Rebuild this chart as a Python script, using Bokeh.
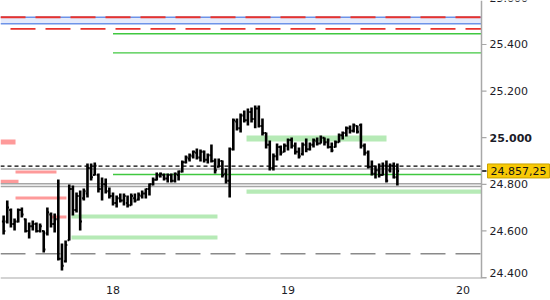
import numpy as np
from bokeh.plotting import figure
from bokeh.models import FixedTicker, Span, Label, ColumnDataSource
from bokeh.core.properties import value
from bokeh.embed import file_html
from bokeh.resources import INLINE

# ---------------- data ----------------
first_bar_day = 17.375          # 30-minute bars
bar_step_day = 1.0 / 48.0

bar_high = [24666, 24730, 24696, 24653, 24696, 24700, 24653, 24636, 24645, 24636,
            24632, 24602, 24700, 24679, 24675, 24821, 24546, 24559, 24799, 24795,
            24765, 24773, 24782, 24889, 24889, 24894, 24846, 24829, 24825, 24786,
            24765, 24752, 24761, 24761, 24752, 24761, 24761, 24765, 24773, 24782,
            24803, 24829, 24851, 24851, 24846, 24846, 24846, 24851, 24859, 24902,
            24924, 24932, 24945, 24954, 24949, 24945, 24932, 24971, 24911, 24911,
            24902, 24868, 24958, 25082, 25082, 25104, 25117, 25125, 25130, 25138,
            25138, 25082, 25022, 24988, 24932, 24975, 24967, 24975, 24997, 25001,
            24979, 24958, 24979, 24997, 24979, 24997, 25001, 25009, 25001, 24997,
            24979, 24988, 25018, 25027, 25048, 25052, 25061, 25052, 25061, 24975,
            24945, 24902, 24881, 24889, 24894, 24902, 24889, 24894, 24889]
bar_low = [24585, 24632, 24615, 24602, 24636, 24658, 24593, 24567, 24602, 24593,
           24593, 24507, 24580, 24615, 24593, 24473, 24430, 24464, 24559, 24666,
           24679, 24602, 24730, 24743, 24816, 24838, 24765, 24730, 24761, 24739,
           24709, 24700, 24722, 24709, 24700, 24709, 24722, 24730, 24739, 24739,
           24752, 24795, 24816, 24829, 24816, 24808, 24808, 24808, 24816, 24851,
           24889, 24898, 24911, 24906, 24898, 24894, 24889, 24894, 24846, 24872,
           24829, 24803, 24743, 24945, 25031, 25022, 25065, 25052, 25065, 25040,
           25044, 25009, 24954, 24859, 24859, 24902, 24924, 24937, 24945, 24954,
           24928, 24911, 24924, 24937, 24945, 24958, 24967, 24975, 24967, 24954,
           24937, 24958, 24979, 24992, 25005, 25018, 25022, 25018, 24954, 24924,
           24868, 24838, 24825, 24829, 24838, 24808, 24851, 24825, 24795]
bar_open = [24640, 24640, 24690, 24630, 24640, 24690, 24650, 24600, 24620, 24630,
            24600, 24600, 24590, 24670, 24630, 24650, 24480, 24470, 24560, 24780,
            24690, 24750, 24740, 24760, 24870, 24840, 24840, 24780, 24800, 24770,
            24750, 24720, 24740, 24730, 24720, 24710, 24740, 24735, 24750, 24760,
            24780, 24800, 24820, 24835, 24840, 24825, 24840, 24815, 24840, 24855,
            24895, 24910, 24920, 24935, 24915, 24940, 24905, 24925, 24900, 24875,
            24900, 24845, 24815, 24950, 25070, 25040, 25095, 25075, 25110, 25080,
            25125, 25050, 25020, 24970, 24870, 24920, 24960, 24940, 24965, 24990,
            24965, 24940, 24930, 24970, 24950, 24970, 24985, 24975, 25000, 24980,
            24960, 24960, 24980, 25010, 25020, 25040, 25030, 25050, 25055, 24965,
            24935, 24875, 24845, 24860, 24840, 24880, 24860, 24880, 24830]
bar_close = [24600, 24700, 24630, 24640, 24690, 24670, 24600, 24620, 24630, 24600,
             24620, 24520, 24680, 24630, 24650, 24480, 24450, 24540, 24780, 24690,
             24750, 24640, 24770, 24870, 24830, 24880, 24780, 24800, 24770, 24750,
             24720, 24740, 24730, 24750, 24710, 24750, 24730, 24755, 24760, 24780,
             24800, 24820, 24840, 24845, 24825, 24840, 24815, 24845, 24855, 24895,
             24915, 24925, 24940, 24915, 24940, 24905, 24925, 24900, 24860, 24900,
             24840, 24815, 24950, 25075, 25040, 25095, 25075, 25110, 25080, 25125,
             25050, 25020, 24970, 24870, 24920, 24960, 24935, 24965, 24990, 24965,
             24940, 24920, 24970, 24950, 24970, 24990, 24975, 25000, 24980, 24960,
             24945, 24980, 25010, 25020, 25040, 25030, 25055, 25025, 24965, 24935,
             24875, 24845, 24860, 24840, 24880, 24815, 24880, 24830, 24857.25]

x_ticks = [18, 19, 20]
x_labels = ["18", "19", "20"]
y_ticks = [24400, 24600, 24800, 25000, 25200, 25400, 25600]
y_labels = ["24.400", "24.600", "24.800", "25.000", "25.200", "25.400", "25.600"]
y_label_bold = [False, False, False, True, False, False, False]

last_price = 24857.25
last_price_text = "24.857,25"

blue_zone_bottom = 25489
blue_zone_top = 25517
red_dashed_levels = [25517, 25467]
green_levels = [25446, 25364, 24842]
green_levels_start = 18.0
gray_levels = [24866, 24802, 24791]
black_dashed_level = 24878
gray_dashed_level = 24502

green_zone_left = [18.763, 18.763, 17.763, 17.763]
green_zone_right = [19.563, None, 18.597, 18.597]     # None = up to the price axis
green_zone_bottom = [24984, 24759, 24653, 24563]
green_zone_top = [25009, 24778, 24670, 24580]

pink_zone_left = [None, 17.443, None, 17.443, 17.643]  # None = from the left edge
pink_zone_right = [17.443, 17.677, 17.46, 17.734, 17.734]
pink_zone_bottom = [24971, 24846, 24803, 24735, 24653]
pink_zone_top = [24992, 24859, 24820, 24748, 24666]

# ---------------- layout constants ----------------
FONT = "DejaVu Sans"
PX_PER_DAY = 175.0
X0 = 18 - 112.5 / PX_PER_DAY            # left edge of the canvas
AXIS_X = 18 + (481 - 112.5) / PX_PER_DAY  # price axis line
X1 = 18 + (550 - 112.5) / PX_PER_DAY     # right edge of the canvas
Y0, Y1 = 24395.7, 25588.8
AX_COLOR = "#a8a8a8"
TXT_COLOR = "#1c1c28"

p = figure(width=550, height=300, output_backend="svg", toolbar_location=None,
           x_range=(X0, X1), y_range=(Y0, Y1), y_axis_location=None,
           min_border_left=0, min_border_top=0, min_border_right=0, min_border_bottom=22)
p.outline_line_color = None
p.grid.visible = False
p.background_fill_color = "white"

# time axis (bottom)
xa = p.xaxis[0]
xa.ticker = FixedTicker(ticks=x_ticks)
xa.major_label_overrides = {t: l for t, l in zip(x_ticks, x_labels)}
xa.axis_line_color = None
xa.major_tick_line_color = None
xa.major_tick_out = 4
xa.major_tick_in = 0
xa.minor_tick_line_color = None
xa.major_label_standoff = 3
xa.major_label_text_font = FONT
xa.major_label_text_font_size = "11px"
xa.major_label_text_color = TXT_COLOR
# visible part of the time-axis line (stops just right of the price axis)
p.segment(x0=[X0], x1=[AXIS_X + 5 / PX_PER_DAY], y0=[Y0], y1=[Y0],
          line_color=AX_COLOR, line_width=2)

# zones
p.quad(left=[X0], right=[AXIS_X], bottom=[blue_zone_bottom], top=[blue_zone_top],
       fill_color="#e4eafb", line_color=None)
p.quad(left=[X0 if v is None else v for v in pink_zone_left], right=pink_zone_right,
       bottom=pink_zone_bottom, top=pink_zone_top, fill_color="#fe9a9a", line_color=None)
p.quad(left=green_zone_left, right=[AXIS_X if v is None else v for v in green_zone_right],
       bottom=green_zone_bottom, top=green_zone_top, fill_color="#b6eab6", line_color=None)

# horizontal levels (all stop at the price axis)
def hline(level, x_start=X0, **kw):
    p.segment(x0=[x_start], x1=[AXIS_X], y0=[level], y1=[level], **kw)

hline(blue_zone_top, line_color="#6d93e8", line_width=1.5)
hline(blue_zone_bottom, line_color="#6d93e8", line_width=1.5)
hline(red_dashed_levels[0], line_color="#e8322c", line_width=1.8, line_dash="25 10")
hline(red_dashed_levels[1], line_color="#e8322c", line_width=1.8, line_dash="25 10",
      line_dash_offset=25)
for lv in gray_levels:
    hline(lv, line_color="#a6a6a6", line_width=1.5)
for lv in green_levels:
    hline(lv, x_start=green_levels_start, line_color="#40c840", line_width=1.4)
hline(black_dashed_level, line_color="black", line_width=1.3, line_dash="4 3")
hline(gray_dashed_level, line_color="#8a8a8a", line_width=1.5, line_dash="25 10")

# OHLC bars
n = len(bar_high)
t = first_bar_day + np.arange(n) * bar_step_day
tick = 1.7 / PX_PER_DAY
src = ColumnDataSource(dict(t=t, tl=t - tick, tr=t + tick, h=bar_high, l=bar_low,
                            o=bar_open, c=bar_close))
p.segment(x0="t", x1="t", y0="l", y1="h", source=src, line_color="black", line_width=2.6)
p.segment(x0="tl", x1="t", y0="o", y1="o", source=src, line_color="black", line_width=2)
p.segment(x0="t", x1="tr", y0="c", y1="c", source=src, line_color="black", line_width=2)

# price axis (right): line, ticks, labels
p.add_layout(Span(location=AXIS_X, dimension="height", line_color=AX_COLOR, line_width=1.5))
tick_len = 5 / PX_PER_DAY
p.segment(x0=[AXIS_X] * len(y_ticks), x1=[AXIS_X + tick_len] * len(y_ticks),
          y0=y_ticks, y1=y_ticks, line_color=AX_COLOR, line_width=1.2)
lab_x = AXIS_X + 8 / PX_PER_DAY
lab = ColumnDataSource(dict(
    x=[lab_x] * len(y_ticks), y=y_ticks, text=y_labels,
    weight=["bold" if b else "normal" for b in y_label_bold],
    base=["bottom" if v == min(y_ticks) else "middle" for v in y_ticks]))
p.text(x="x", y="y", text="text", source=lab, text_font=value(FONT),
       text_font_size="11px", text_font_style="weight", text_baseline="base",
       text_align="left", text_color=TXT_COLOR)

# last price marker on the axis
p.segment(x0=[AXIS_X], x1=[AXIS_X + tick_len], y0=[last_price], y1=[last_price],
          line_color="black", line_width=1.5)
p.add_layout(Label(x=AXIS_X + 6 / PX_PER_DAY, y=last_price, text=last_price_text,
                   text_baseline="middle", text_font=FONT, text_font_size="11px",
                   text_color="#141414", background_fill_color="#f8c905",
                   border_line_color="#c9a200", border_line_width=1, padding=3))

open("out.html", "w").write(file_html(p, INLINE))
